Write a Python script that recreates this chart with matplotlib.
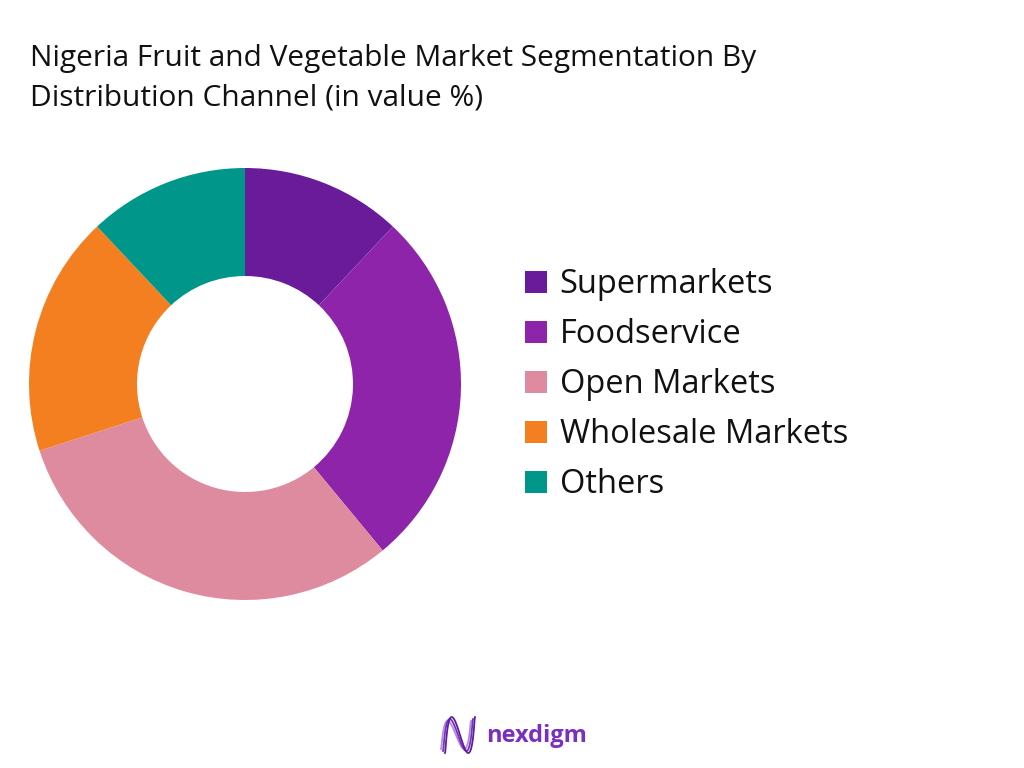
import numpy as np
import matplotlib
matplotlib.use('Agg')
import matplotlib.pyplot as plt

# Segment shares (value %), clockwise from 12 o'clock
channels = ['Supermarkets', 'Foodservice', 'Open Markets', 'Wholesale Markets', 'Others']
shares = [12, 27, 31, 18, 12]
colors = ['#6A1B9A', '#8E24AA', '#DE8BA0', '#F47F20', '#00968A']

title = 'Nigeria Fruit and Vegetable Market Segmentation By\nDistribution Channel (in value %)'

plt.rcParams['font.family'] = ['Open Sans', 'DejaVu Sans']

fig = plt.figure(figsize=(10.24, 7.68), dpi=100)
ax = fig.add_axes([0, 0, 1, 1])
ax.set_xlim(0, 1024)
ax.set_ylim(0, 768)
ax.set_aspect('equal')
ax.axis('off')

wedges, _ = ax.pie(shares, colors=colors, startangle=90, counterclock=False,
                   center=(245, 384), radius=216,
                   wedgeprops=dict(width=108, linewidth=0))
ax.set_xlim(0, 1024)
ax.set_ylim(0, 768)

fig.text(30 / 1024, 1 - 44 / 768, title, fontsize=21.5, color='#111111',
         va='top', ha='left', linespacing=1.5)

leg = fig.legend(wedges, channels, loc='upper left',
                 bbox_to_anchor=(496 / 1024, 1 - 239 / 768),
                 frameon=False, fontsize=23.5, handlelength=0.67, handleheight=0.67,
                 handletextpad=0.38, labelspacing=0.52)
for t in leg.get_texts():
    t.set_color('#111111')

# logo
s = np.linspace(0, 1, 120)
for k, off in enumerate([-2.0, 0.0, 2.0]):
    xs = 443 + off + 30 * (s - 0.8 * np.sin(2 * np.pi * s) / (2 * np.pi))
    ys = 768 - (735 + (16 + off) * np.cos(3 * np.pi * s))
    ax.plot(xs, ys, color=['#B58BE0', '#7B2FBE', '#5A1FA0'][k], lw=1.3)
fig.text(486 / 1024, 1 - 736 / 768, 'nexdigm', fontsize=17, fontweight='bold',
         color='#7B2FBE', va='center', ha='left')

fig.savefig('out.png', dpi=100)
